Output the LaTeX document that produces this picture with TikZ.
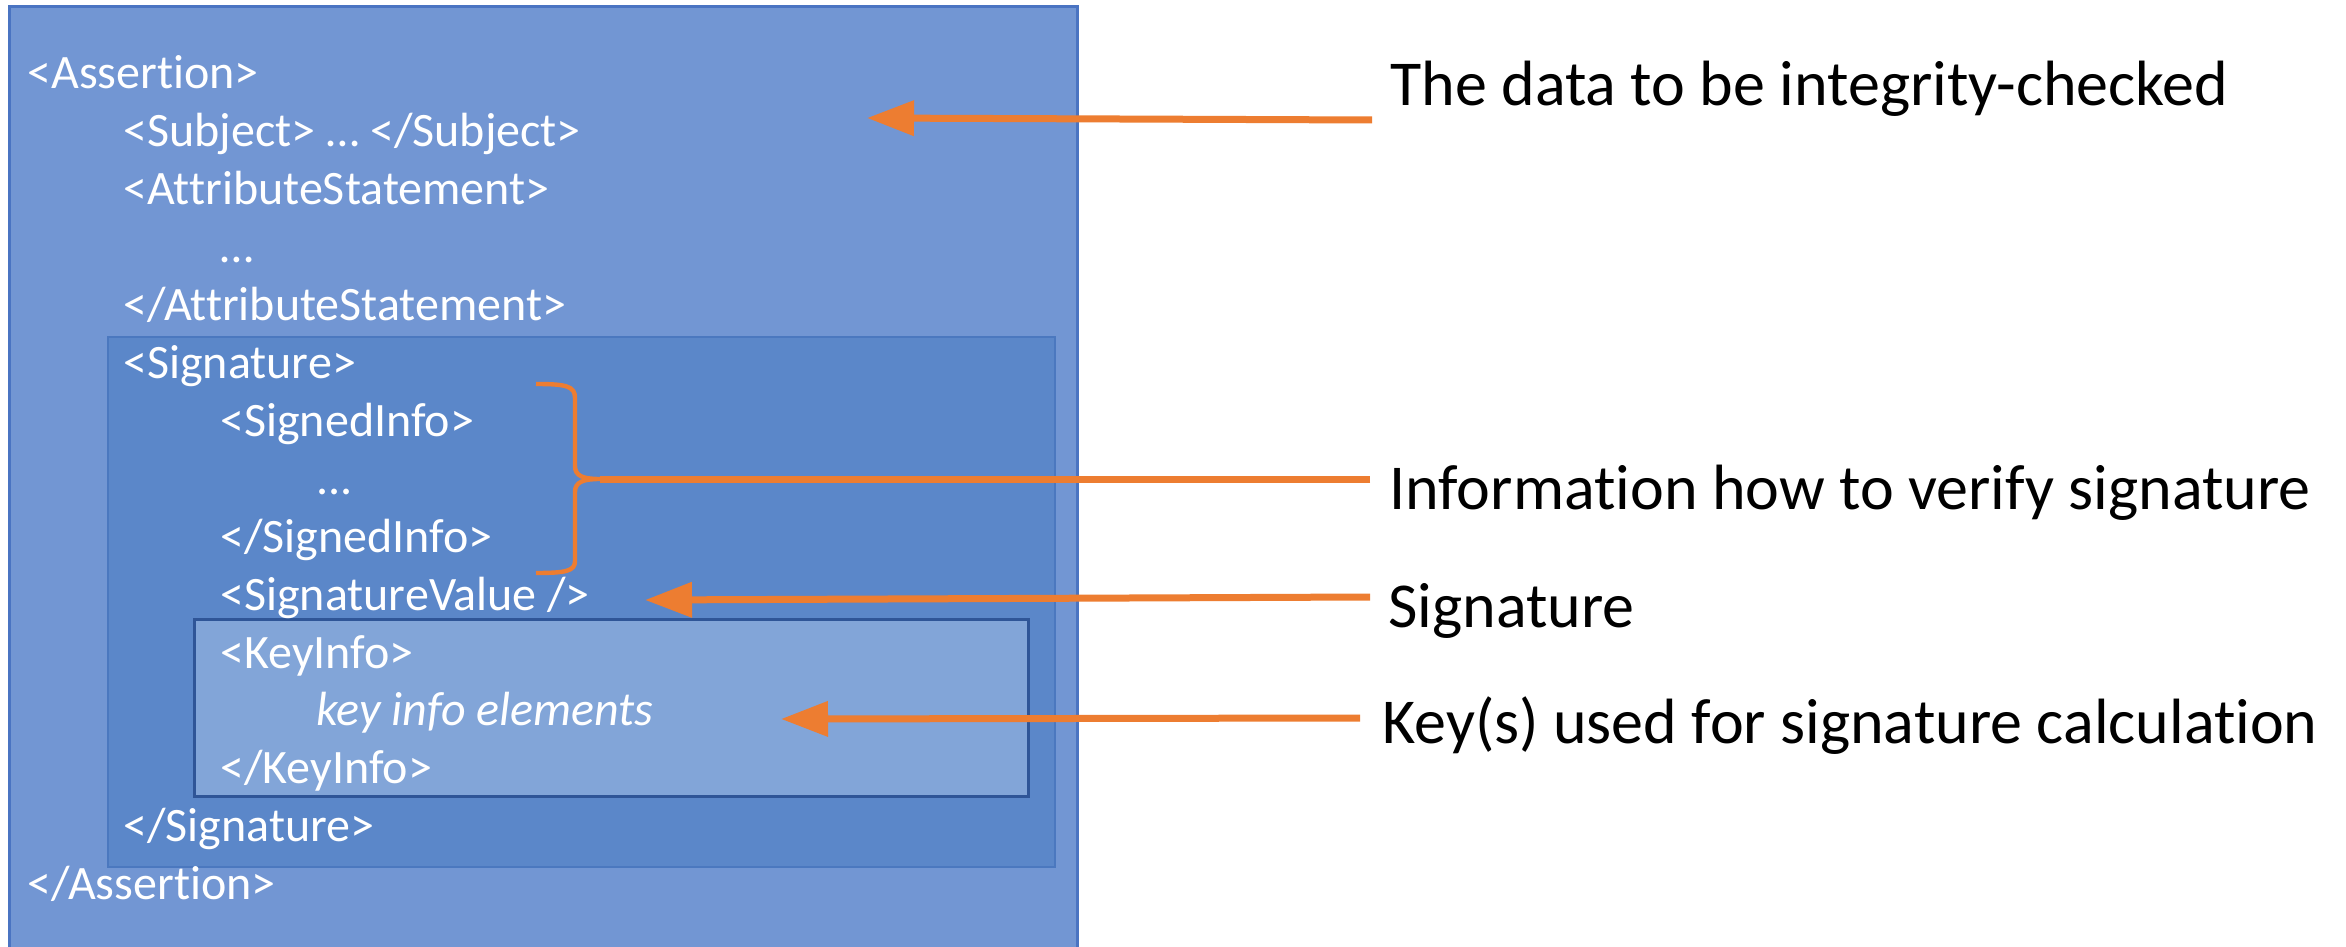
\documentclass[tikz,border=0pt]{standalone}
\usepackage{fontspec}
\setmainfont{Carlito}[Ligatures={NoCommon,NoContextual,NoRare}, RawFeature=-calt]
\usetikzlibrary{arrows.meta}

\definecolor{assertfill}{HTML}{7296D3}
\definecolor{assertline}{HTML}{4A74C2}
\definecolor{sigfill}{HTML}{5B87C9}
\definecolor{sigline}{HTML}{4B78BF}
\definecolor{keyfill}{HTML}{82A5D8}
\definecolor{keyline}{HTML}{2F5597}
\definecolor{accent}{HTML}{ED7D31}

\tikzset{
  xmlline/.style={anchor=base west, inner sep=0pt, text=white,
                  font=\fontsize{24}{28}\selectfont},
  note/.style={anchor=base west, inner sep=0pt, text=black,
               font=\fontsize{32}{38}\selectfont},
  pointer/.style={draw=accent, line width=3.5pt,
                  -{Triangle[length=23.5pt,width=17pt]}},
  link/.style={draw=accent, line width=3.5pt},
  bracket/.style={draw=accent, line width=2.2pt, line join=round},
}

\begin{document}
\begin{tikzpicture}[x=0.5pt, y=-0.5pt]
  \clip (0,0) rectangle (2346,947);
  \fill[white] (0,0) rectangle (2346,947);

  % nested element boxes
  \draw[fill=assertfill, draw=assertline, line width=1.5pt] (9,7) rectangle (1077,980);
  \draw[fill=sigfill, draw=sigline, line width=1.2pt] (108,337) rectangle (1055,867);
  \draw[fill=keyfill, draw=keyline, line width=1.5pt] (194,619) rectangle (1028,796);

  % XML listing
  \def\Lzero{27} \def\Lone{123} \def\Ltwo{220} \def\Lthree{316}
  \node[xmlline] (l0)  at (\Lzero, 89.0)  {<Assertion>};
  \node[xmlline] (l1)  at (\Lone, 146.9)  {<Subject> … </Subject>};
  \node[xmlline] (l2)  at (\Lone, 204.8)  {<AttributeStatement>};
  \node[xmlline] (l3)  at (\Ltwo, 262.7)  {…};
  \node[xmlline] (l4)  at (\Lone, 320.6)  {</AttributeStatement>};
  \node[xmlline] (l5)  at (\Lone, 378.5)  {<Signature>};
  \node[xmlline] (l6)  at (\Ltwo, 436.4)  {<SignedInfo>};
  \node[xmlline] (l7)  at (\Lthree, 494.3) {...};
  \node[xmlline] (l8)  at (\Ltwo, 552.2)  {</SignedInfo>};
  \node[xmlline] (l9)  at (\Ltwo, 610.1)  {<SignatureValue />};
  \node[xmlline] (l10) at (\Ltwo, 668.0)  {<KeyInfo>};
  \node[xmlline] (l11) at (\Lthree, 725.9) {\itshape key info elements};
  \node[xmlline] (l12) at (\Ltwo, 783.8)  {</KeyInfo>};
  \node[xmlline] (l13) at (\Lone, 841.7)  {</Signature>};
  \node[xmlline] (l14) at (\Lzero, 899.6) {</Assertion>};

  % explanations
  \node[note] (n1) at (1390,106) {The data to be integrity-checked};
  \node[note] (n2) at (1389,509) {Information how to verify signature};
  \node[note] (n3) at (1388,627) {Signature};
  \node[note] (n4) at (1382,743) {Key(s) used for signature calculation};

  % connector ends
  \coordinate (s1) at (1372,120);
  \coordinate (t1) at (867,118);
  \coordinate (s2) at (1370,479);
  \coordinate (t2) at (600,479);
  \coordinate (s3) at (1370,597);
  \coordinate (t3) at (645,600);
  \coordinate (s4) at (1360,718);
  \coordinate (t4) at (781,719);

  % brace around SignedInfo
  \draw[bracket] (536,384) .. controls (566,384) and (575,386) .. (575,398)
    -- (575,466) .. controls (575,476) and (583,479) .. (t2)
    .. controls (583,479) and (575,482) .. (575,492)
    -- (575,561) .. controls (575,571) and (566,573) .. (536,573);

  % connectors
  \draw[pointer] (s1) -- (t1);
  \draw[link] (s2) -- (t2);
  \draw[pointer] (s3) -- (t3);
  \draw[pointer] (s4) -- (t4);
\end{tikzpicture}
\end{document}
